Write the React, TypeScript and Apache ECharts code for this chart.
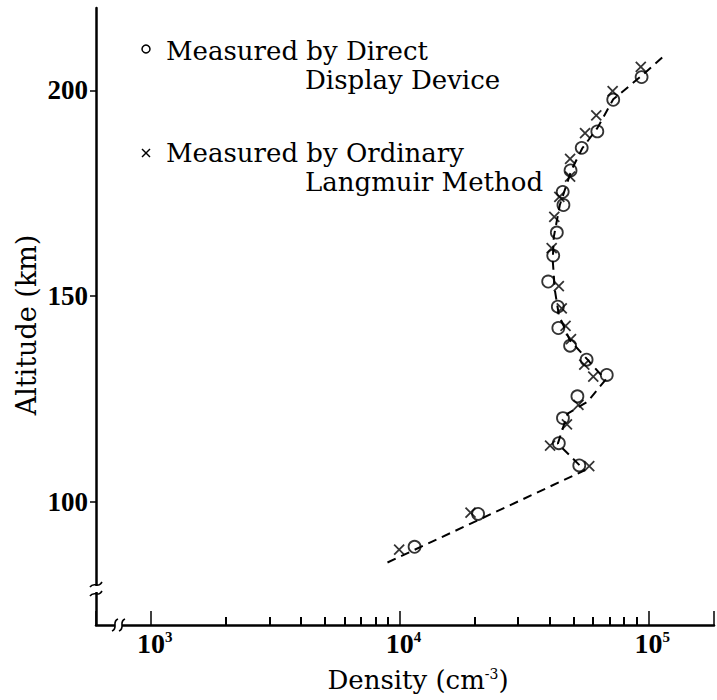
import React, { useEffect, useRef } from 'react';
import * as echarts from 'echarts';

// Altitude (km) and density (cm^-3)
const directAltitude = [203.2, 197.7, 190.0, 186.0, 180.5, 175.3, 172.1, 165.4, 159.8, 153.5, 147.4, 142.2, 137.9, 134.5, 130.8, 125.6, 120.3, 114.2, 108.8, 97.0, 89.0];
const directDensity = [94000, 72300, 62400, 54000, 48700, 45300, 45600, 42900, 41500, 39600, 43300, 43500, 48500, 56500, 68100, 51900, 45400, 43700, 52800, 20700, 11500];

const langmuirAltitude = [205.7, 199.8, 193.9, 189.6, 183.3, 179.0, 174.1, 169.2, 161.6, 152.4, 147.0, 142.7, 139.5, 133.3, 130.4, 123.5, 118.8, 113.6, 108.6, 97.3, 88.3];
const langmuirDensity = [93300, 71900, 61800, 55700, 48500, 48500, 43900, 41900, 40900, 43700, 44900, 46500, 48900, 55300, 60100, 52400, 47100, 40300, 57900, 19300, 9970];

const fitAltitude = [85.2, 107.6, 114.1, 121.4, 124.3, 129.6, 134.5, 139.3, 145.4, 151.5, 158.7, 164.3, 172.1, 180.6, 185.9, 190.8, 197.8, 203.4, 208.0];
const fitDensity = [8950, 55500, 43300, 47400, 57000, 67300, 57000, 48300, 43700, 42100, 41300, 41700, 44100, 49100, 54300, 62400, 72300, 93500, 113800];

const minorTickValues = [2000, 3000, 4000, 5000, 6000, 7000, 8000, 9000, 20000, 30000, 40000, 50000, 60000, 70000, 80000, 90000];
const altitudeTicks = [100, 150, 200];

const legendDirect = ['Measured by Direct', 'Display Device'];
const legendLangmuir = ['Measured by Ordinary', 'Langmuir Method'];
const xTitleParts = ['Density (cm', '-3', ')'];
const yTitle = 'Altitude (km)';

const X_MIN = 603;
const X_MAX = 183700;
const Y_MIN = 70;
const Y_MAX = 220;

const pairs = (xs: number[], ys: number[]) => xs.map((x, i) => [x, ys[i]]);

export default function App() {
  const ref = useRef<HTMLDivElement>(null);

  useEffect(() => {
    if (!ref.current) return;
    const chart = echarts.init(ref.current, null, { renderer: 'svg' });
    const numFont = 'Liberation Serif';
    const textFont = 'DejaVu Serif';

    const legendText = (text: string, x: number, y: number) => ({
      type: 'text',
      x,
      y,
      z: 100,
      style: {
        text,
        fontFamily: textFont,
        fontSize: 26,
        fill: '#000',
        align: 'left',
        verticalAlign: 'middle',
        textAlign: 'left',
        textVerticalAlign: 'middle',
      },
    });

    const option: any = {
      animation: false,
      backgroundColor: '#fff',
      grid: { left: 96, right: 0, top: 8, bottom: 75, containLabel: false },
      xAxis: [
        {
          type: 'log',
          logBase: 10,
          min: X_MIN,
          max: X_MAX,
          position: 'bottom',
          axisLine: { show: true, onZero: false, lineStyle: { color: '#000', width: 2.5 } },
          axisTick: { show: true, inside: true, length: 14, lineStyle: { color: '#000', width: 1.5 } },
          minorTick: { show: false },
          splitLine: { show: false },
          axisLabel: {
            margin: 4,
            color: '#000',
            formatter: (v: number) => {
              const e = Math.log10(v);
              if (Math.abs(e - Math.round(e)) > 1e-6) return '';
              return `{pad|}{b|10}{s|${Math.round(e)}}`;
            },
            rich: {
              pad: { width: 8 },
              b: { fontFamily: numFont, fontSize: 28, fontWeight: 'bold', color: '#000' },
              s: { fontFamily: numFont, fontSize: 15, fontWeight: 'bold', color: '#000', verticalAlign: 'top' },
            },
          },
        },
        {
          // companion axis in log10 units, used only to draw the minor ticks (2..9 x 10^n)
          type: 'value',
          min: Math.log10(X_MIN),
          max: Math.log10(X_MAX),
          position: 'bottom',
          offset: 0,
          z: 10,
          axisLine: { show: false, onZero: false },
          axisTick: {
            show: true,
            inside: true,
            length: 8,
            customValues: minorTickValues.map((v) => Math.log10(v)),
            lineStyle: { color: '#000', width: 2 },
          },
          axisLabel: { show: false },
          splitLine: { show: false },
        },
      ],
      yAxis: {
        type: 'value',
        min: Y_MIN,
        max: Y_MAX,
        axisLine: { show: true, onZero: false, lineStyle: { color: '#000', width: 2.5 } },
        axisTick: { show: true, length: 6, customValues: altitudeTicks, lineStyle: { color: '#000', width: 1.5 } },
        axisLabel: {
          customValues: altitudeTicks,
          margin: 8,
          color: '#000',
          fontFamily: numFont,
          fontSize: 27,
          fontWeight: 'bold',
        },
        splitLine: { show: false },
      },
      series: [
        {
          name: 'Fit',
          type: 'line',
          xAxisIndex: 0,
          data: pairs(fitDensity, fitAltitude),
          symbol: 'none',
          smooth: false,
          lineStyle: { color: '#000', width: 2, type: [9, 6] },
          z: 1,
        },
        {
          name: 'Measured by Direct Display Device',
          type: 'scatter',
          xAxisIndex: 0,
          data: pairs(directDensity, directAltitude),
          symbol: 'circle',
          symbolSize: 12,
          itemStyle: { color: 'rgba(0,0,0,0)', borderColor: '#000', borderWidth: 1.8 },
          z: 3,
        },
        {
          name: 'Measured by Ordinary Langmuir Method',
          type: 'scatter',
          xAxisIndex: 0,
          data: pairs(langmuirDensity, langmuirAltitude),
          symbol: 'path://M0,0L10,10M10,0L0,10',
          symbolSize: 10,
          itemStyle: { color: 'rgba(0,0,0,0)', borderColor: '#000', borderWidth: 1.8 },
          z: 3,
        },
      ],
      graphic: [
        // legend
        { type: 'circle', z: 100, shape: { cx: 146, cy: 49, r: 4 }, style: { fill: 'none', stroke: '#000', lineWidth: 1.5 } },
        legendText(legendDirect[0], 166, 51),
        legendText(legendDirect[1], 305, 80),
        { type: 'line', z: 100, shape: { x1: 142, y1: 149, x2: 150, y2: 157 }, style: { stroke: '#000', lineWidth: 1.5 } },
        { type: 'line', z: 100, shape: { x1: 150, y1: 149, x2: 142, y2: 157 }, style: { stroke: '#000', lineWidth: 1.5 } },
        legendText(legendLangmuir[0], 166, 153),
        legendText(legendLangmuir[1], 305, 182),
        // axis titles
        {
          type: 'text',
          x: 26,
          y: 325,
          rotation: Math.PI / 2,
          z: 100,
          style: {
            text: yTitle,
            fontFamily: textFont,
            fontSize: 27,
            fill: '#000',
            align: 'center',
            verticalAlign: 'middle',
            textAlign: 'center',
            textVerticalAlign: 'middle',
          },
        },
        {
          type: 'text',
          x: 418,
          y: 680,
          z: 100,
          style: {
            text: `{t|${xTitleParts[0]}}{s|${xTitleParts[1]}}{t|${xTitleParts[2]}}`,
            align: 'center',
            verticalAlign: 'middle',
            textAlign: 'center',
            textVerticalAlign: 'middle',
            rich: {
              t: { fontFamily: textFont, fontSize: 26, fill: '#000', color: '#000' },
              s: { fontFamily: textFont, fontSize: 14, fill: '#000', color: '#000', verticalAlign: 'top' },
            },
          },
        },
        // y-axis break
        { type: 'rect', z: 100, shape: { x: 90, y: 586, width: 12, height: 6 }, style: { fill: '#fff' } },
        { type: 'bezierCurve', z: 101, shape: { x1: 90, y1: 587, cpx1: 94, cpy1: 581, cpx2: 98, cpy2: 589, x2: 102, y2: 582 }, style: { stroke: '#000', lineWidth: 1.6, fill: 'none' } },
        { type: 'bezierCurve', z: 101, shape: { x1: 90, y1: 596, cpx1: 94, cpy1: 590, cpx2: 98, cpy2: 598, x2: 102, y2: 591 }, style: { stroke: '#000', lineWidth: 1.6, fill: 'none' } },
        // x-axis break
        { type: 'rect', z: 100, shape: { x: 115, y: 619, width: 7, height: 12 }, style: { fill: '#fff' } },
        { type: 'bezierCurve', z: 101, shape: { x1: 112, y1: 631, cpx1: 119, cpy1: 628, cpx2: 111, cpy2: 622, x2: 118, y2: 619 }, style: { stroke: '#000', lineWidth: 1.6, fill: 'none' } },
        { type: 'bezierCurve', z: 101, shape: { x1: 119, y1: 631, cpx1: 126, cpy1: 628, cpx2: 118, cpy2: 622, x2: 125, y2: 619 }, style: { stroke: '#000', lineWidth: 1.6, fill: 'none' } },
      ],
    };

    chart.setOption(option);
    return () => chart.dispose();
  }, []);

  return (
    <div
      ref={ref}
      style={{ position: 'fixed', left: 0, top: 0, width: 717, height: 700, background: '#fff' }}
    />
  );
}
